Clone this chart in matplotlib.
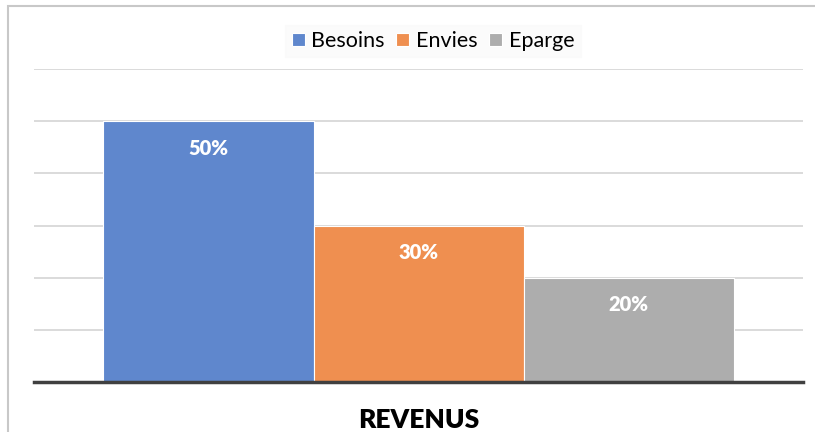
import matplotlib
matplotlib.use("Agg")
import matplotlib.pyplot as plt
from matplotlib.patches import Rectangle

category = "REVENUS"
series = ["Besoins", "Envies", "Eparge"]
values = [50, 30, 20]
labels = ["50%", "30%", "20%"]
colors = ["#5F87CD", "#EF8F50", "#ADADAD"]

plt.rcParams['font.family'] = ['Lato', 'DejaVu Sans']

W, H = 815, 432
fig = plt.figure(figsize=(W / 100, H / 100), dpi=100)

# outer chart border
fig.patches.append(Rectangle((8 / W, -0.1), 1.2, (H - 6) / H + 0.1, transform=fig.transFigure,
                             fill=False, edgecolor="#C8C8C8", linewidth=1.5))

left, right, top, bottom = 34, 803, 69, 382
ax = fig.add_axes([left / W, 1 - bottom / H, (right - left) / W, (bottom - top) / H])

positions = [-1, 0, 1]
half = (right - left) / 2 / 210
for p, v, c, s, lab in zip(positions, values, colors, series, labels):
    ax.bar(p, v, width=1.0, color=c, edgecolor="white", linewidth=0.8, label=s, zorder=3)
    ax.annotate(lab, xy=(p, v), xytext=(0, -19.5), textcoords="offset points",
                ha="center", va="center", color="white", fontsize=14.5, fontweight="heavy", zorder=4)

ax.set_xlim(-half, half)
ax.set_ylim(0, 60)
ax.set_yticks(range(0, 61, 10))
ax.yaxis.grid(True, color="#D4D4D4", linewidth=1.2, zorder=0)
ax.set_yticklabels([])
ax.tick_params(length=0)
ax.set_xticks([])
for sp in ["top", "right", "left"]:
    ax.spines[sp].set_visible(False)
ax.spines["bottom"].set_color("#404040")
ax.spines["bottom"].set_linewidth(2.5)
ax.spines["bottom"].set_zorder(5)

fig.text(419 / W, 1 - 420 / H, category, ha="center", va="center", fontsize=19, fontweight="heavy")

leg = fig.legend(loc="center", bbox_to_anchor=(433 / W, 1 - 41 / H), ncol=3, frameon=True,
                 fontsize=15.5, handlelength=0.6, handleheight=0.6, handletextpad=0.3,
                 columnspacing=0.55, borderpad=0.3, fancybox=False)
leg.get_frame().set_facecolor("#FAFAFA")
leg.get_frame().set_edgecolor("#FAFAFA")

fig.savefig("out.png", dpi=100)
